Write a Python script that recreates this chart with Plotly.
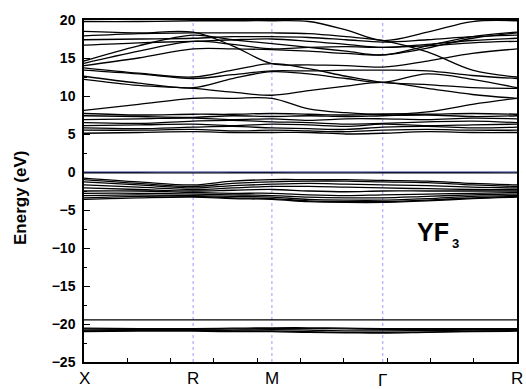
import plotly.graph_objects as go

# ---------------- data ----------------
k_points = [0.0, 0.126, 0.252, 0.343, 0.434, 0.519, 0.605, 0.690, 0.793, 0.897, 1.0]
sym_positions = [0.0, 0.252, 0.434, 0.690, 1.0]
sym_labels = ["X", "R", "M", "Γ", "R"]
y_tick_values = [-25, -20, -15, -10, -5, 0, 5, 10, 15, 20]

upper_conduction = [
    [19.8, 19.8, 19.9, 19.9, 19.9, 19.8, 18.7, 17.3, 18.4, 19.8, 19.9],
    [18.5, 18.3, 18.4, 16.6, 14.25, 14.1, 14.0, 13.8, 14.6, 15.6, 16.2],
    [17.9, 18.2, 18.3, 18.3, 18.3, 18.2, 17.8, 17.3, 15.8, 13.4, 12.5],
    [17.4, 17.5, 17.6, 17.8, 17.8, 17.7, 17.4, 17.1, 17.4, 17.8, 18.0],
    [16.7, 17.0, 17.2, 17.4, 17.5, 17.2, 16.8, 16.4, 16.8, 17.3, 17.6],
    [14.6, 16.6, 18.0, 17.4, 16.9, 16.4, 15.9, 15.4, 16.6, 17.8, 18.4],
    [14.3, 15.9, 17.2, 16.8, 16.2, 16.4, 16.5, 16.4, 16.6, 17.0, 17.2],
    [14.0, 15.0, 16.2, 16.2, 16.1, 15.9, 15.6, 15.4, 16.3, 17.6, 18.3],
    [13.7, 13.0, 12.5, 13.4, 14.25, 13.6, 12.6, 11.8, 11.5, 11.1, 11.0],
    [13.4, 12.9, 12.3, 12.8, 13.3, 13.3, 13.4, 13.4, 13.3, 12.7, 12.3],
    [12.6, 11.7, 11.1, 12.3, 13.2, 12.9, 12.3, 11.8, 12.9, 12.2, 11.1],
    [12.2, 11.4, 11.0, 10.5, 10.1, 10.7, 11.3, 11.8, 11.0, 10.2, 9.7],
    [8.1, 8.9, 9.7, 9.7, 9.7, 8.3, 7.8, 7.6, 7.9, 8.9, 9.7],
]

lower_conduction = [
    [7.7, 7.5, 7.6, 7.6, 7.7, 7.6, 7.5, 7.6, 7.6, 7.7, 7.6],
    [7.4, 7.3, 7.2, 7.4, 7.3, 7.4, 7.3, 7.4, 7.5, 7.3, 7.4],
    [6.9, 7.0, 7.1, 6.9, 7.0, 6.8, 7.0, 7.0, 6.9, 7.1, 7.0],
    [6.5, 6.4, 6.7, 6.8, 6.6, 6.5, 6.3, 6.4, 6.6, 6.7, 6.5],
    [6.1, 6.2, 6.3, 6.1, 6.3, 6.2, 6.0, 6.3, 6.1, 6.2, 6.3],
    [5.8, 5.7, 5.9, 6.0, 5.8, 5.7, 5.6, 5.9, 6.0, 5.8, 5.9],
    [5.5, 5.5, 5.6, 5.4, 5.5, 5.4, 5.3, 5.5, 5.6, 5.5, 5.5],
    [5.1, 5.2, 5.3, 5.2, 5.2, 5.2, 5.0, 5.1, 5.3, 5.2, 5.2],
]

valence = [
    [-0.1, -0.1, -0.12, -0.1, -0.1, -0.12, -0.12, -0.1, -0.1, -0.1, -0.12],
    [-0.8, -1.3, -1.7, -1.2, -1.0, -1.0, -1.0, -1.1, -1.2, -1.5, -1.7],
    [-1.0, -1.5, -1.9, -1.5, -1.3, -1.2, -1.2, -1.3, -1.4, -1.7, -1.9],
    [-1.3, -1.7, -2.1, -1.8, -1.6, -1.5, -1.6, -1.7, -1.8, -2.0, -2.1],
    [-1.7, -2.0, -2.3, -2.1, -1.9, -1.9, -2.0, -2.1, -2.2, -2.3, -2.3],
    [-2.1, -2.3, -2.5, -2.4, -2.3, -2.5, -2.6, -2.5, -2.5, -2.5, -2.5],
    [-2.5, -2.5, -2.7, -2.8, -2.8, -3.0, -3.1, -3.0, -2.9, -2.8, -2.7],
    [-2.8, -2.8, -2.9, -3.0, -3.1, -3.3, -3.4, -3.4, -3.2, -3.0, -2.9],
    [-3.1, -3.0, -3.1, -3.2, -3.3, -3.6, -3.7, -3.7, -3.5, -3.2, -3.1],
    [-3.4, -3.2, -3.2, -3.4, -3.5, -3.8, -3.9, -3.9, -3.7, -3.4, -3.2],
    [-3.6, -3.4, -3.3, -3.5, -3.6, -3.9, -4.0, -4.0, -3.8, -3.5, -3.3],
]

core = [
    [-19.45, -19.45, -19.45, -19.45, -19.45, -19.45, -19.45, -19.45, -19.45, -19.45, -19.45],
    [-20.55, -20.6, -20.6, -20.55, -20.5, -20.5, -20.55, -20.6, -20.6, -20.6, -20.6],
    [-20.65, -20.7, -20.7, -20.65, -20.6, -20.6, -20.65, -20.7, -20.7, -20.7, -20.7],
    [-20.8, -20.75, -20.8, -20.8, -20.75, -20.8, -20.9, -20.9, -20.85, -20.8, -20.8],
    [-20.9, -20.85, -20.85, -20.9, -20.9, -21.0, -21.1, -21.1, -21.05, -20.95, -20.85],
    [-21.0, -20.95, -20.95, -21.0, -21.0, -21.1, -21.15, -21.2, -21.1, -21.0, -20.95],
]

fermi_level = 0.0
x_range = [0, 1]
y_range = [-25, 20]

# ---------------- figure ----------------
fig = go.Figure()
for group in (upper_conduction, lower_conduction, valence, core):
    for band in group:
        fig.add_trace(go.Scatter(
            x=k_points, y=band, mode="lines",
            line=dict(color="black", width=1.3, shape="spline", smoothing=1.0),
            showlegend=False, hoverinfo="skip"))

for xp in sym_positions[1:-1]:
    fig.add_shape(type="line", xref="x", yref="y", x0=xp, x1=xp,
                  y0=y_range[0], y1=y_range[1], layer="below",
                  line=dict(color="#9a9aff", width=1, dash="dot"))
fig.add_shape(type="line", xref="x", yref="y", x0=x_range[0], x1=x_range[1],
              y0=fermi_level, y1=fermi_level, layer="above",
              line=dict(color="#1c2a80", width=1))

font_family = "Liberation Sans, Arial, sans-serif"

for xp, lab in zip(sym_positions, sym_labels):
    fig.add_annotation(x=xp, y=0, xref="x", yref="paper", text=lab,
                       showarrow=False, xanchor="center", yanchor="top",
                       yshift=-7 if lab == "Γ" else -5,
                       font=dict(family=font_family, size=17, color="black"))

fig.add_annotation(x=0, y=0.5, xref="paper", yref="paper", text="Energy (eV)",
                   textangle=-90, showarrow=False, xanchor="center", yanchor="middle",
                   xshift=-64, yshift=-7,
                   font=dict(family=font_family, size=17, color="black", weight="bold"))
fig.add_annotation(x=0.805, y=-7.9, xref="x", yref="y", text="YF",
                   showarrow=False, xanchor="center", yanchor="middle",
                   font=dict(family=font_family, size=25, color="black", weight="bold"))
fig.add_annotation(x=0.857, y=-9.4, xref="x", yref="y", text="3",
                   showarrow=False, xanchor="center", yanchor="middle",
                   font=dict(family=font_family, size=13, color="black", weight="bold"))

fig.update_layout(
    width=526, height=389,
    margin=dict(l=84, r=7, t=20, b=27),
    paper_bgcolor="white", plot_bgcolor="white",
    xaxis=dict(range=x_range, showgrid=False, zeroline=False,
               ticks="inside", ticklen=4, tickwidth=1, tickcolor="black",
               tick0=0, dtick=0.1, showticklabels=False,
               showline=True, linecolor="black", linewidth=1.5, mirror=True),
    yaxis=dict(range=y_range, showgrid=False, zeroline=False,
               ticks="inside", ticklen=6, tickwidth=1, tickcolor="black",
               tickvals=y_tick_values,
               minor=dict(ticks="inside", ticklen=3, tickcolor="black", dtick=2.5, tick0=0),
               tickfont=dict(family=font_family, size=14, color="black", weight="bold"),
               ticklabelstandoff=4,
               showline=True, linecolor="black", linewidth=1.5, mirror=True),
)

fig.write_html("out.html")
